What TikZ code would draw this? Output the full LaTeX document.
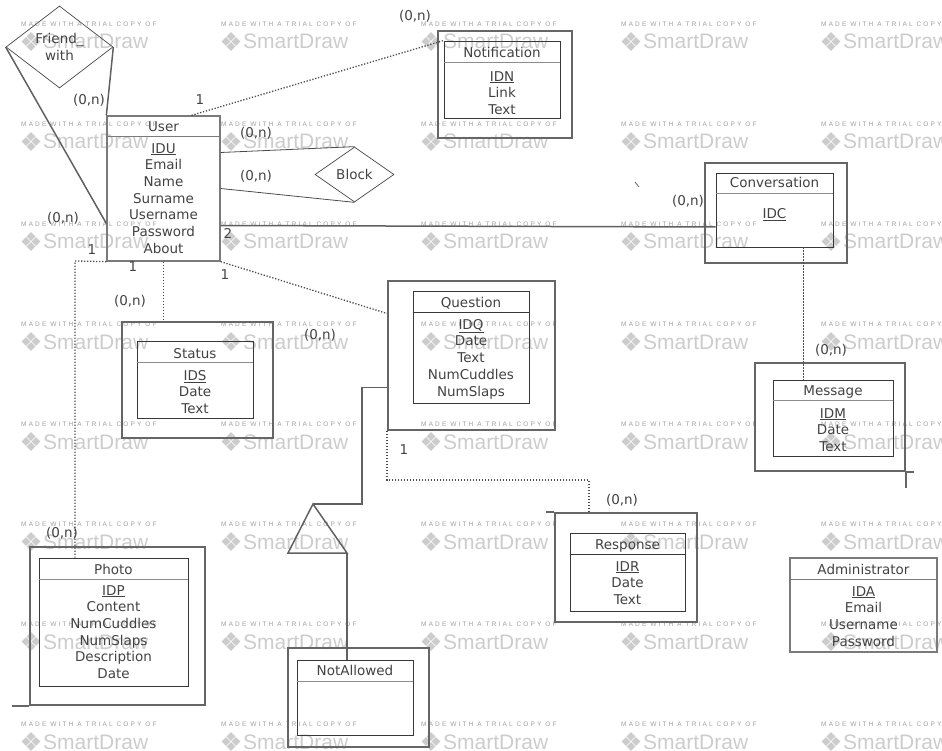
\documentclass[tikz,border=0pt]{standalone}
\usepackage{fontspec}
\setmainfont{DejaVu Sans}
\newfontfamily\wmfont{Liberation Sans}
\newfontfamily\wmtiny[LetterSpace=33]{Liberation Sans}
\usetikzlibrary{shapes.geometric}

\begin{document}
\begin{tikzpicture}[x=1pt,y=-1pt,
  ebox/.style={draw=black!78,line width=0.9pt,inner sep=0pt},
  sbox/.style={draw=black!52,line width=1.3pt,inner sep=0pt},
  obox/.style={draw=black!60,line width=1.8pt,inner sep=0pt},
  divline/.style={draw=black!45,line width=0.9pt},
  ttl/.style={font=\fontsize{13.5}{16.7}\selectfont,text=black!74,inner sep=0pt,anchor=base},
  attr/.style={font=\fontsize{13.5}{16.7}\selectfont,text=black!74,inner sep=0pt,anchor=north,align=center},
  card/.style={font=\fontsize{13.5}{16.7}\selectfont,text=black!74,inner sep=0pt},
  rel/.style={diamond,draw=black!72,line width=0.7pt,inner sep=0pt,font=\fontsize{13.5}{16.7}\selectfont,text=black!74,align=center},
  link/.style={draw=black!62,line width=1.5pt},
  thinlink/.style={draw=black!70,line width=0.8pt},
  dotlink/.style={draw=black!70,line width=1.3pt,dash pattern=on 1.3pt off 1.7pt},
  wmsmall/.style={font=\wmtiny\fontsize{6.5}{8}\selectfont,text=black!38,inner sep=0pt},
  wmbig/.style={font=\wmfont\fontsize{21}{25}\selectfont,text=black!20,inner sep=0pt}]
\useasboundingbox (0,0) rectangle (942,751);
\clip (0,0) rectangle (942,751);

\foreach \i in {0,...,4}{
  \foreach \j in {0,...,7}{
    \node[wmsmall,anchor=west] (wm-\i-\j) at (21+200*\i,24+100*\j) {MADE WITH A TRIAL COPY OF};
    \node[wmbig,anchor=base west] (sd-\i-\j) at (43+200*\i,49+100*\j) {SmartDraw};
    \foreach \dx/\dy in {-5/0,5/0,0/-5,0/5}
      \fill[black!20] (31+200*\i+\dx,41.5+100*\j+\dy) +(0,-4.4) -- +(4.4,0) -- +(0,4.4) -- +(-4.4,0) -- cycle;
  }
}

\node[sbox,minimum width=113pt,minimum height=145pt] (user) at (163.5,188.5) {};
\draw[sbox] ([yshift=-21pt]user.north west) -- ([yshift=-21pt]user.north east);
\node[ttl] (user-t) at (163.5,132) {User};
\node[attr] (user-a) at (163.5,143) {\underline{IDU}\\Email\\Name\\Surname\\Username\\Password\\About};

\node[obox,minimum width=134pt,minimum height=107pt] (notifout) at (505,84.5) {};
\node[ebox,minimum width=116pt,minimum height=77pt] (notif) at (502,79.5) {};
\draw[divline] ([yshift=-22pt]notif.north west) -- ([yshift=-22pt]notif.north east);
\node[ttl] (notif-t) at (502,58) {Notification};
\node[attr] (notif-a) at (502,71) {\underline{IDN}\\Link\\Text};

\node[obox,minimum width=142pt,minimum height=100pt] (convout) at (776,213) {};
\node[ebox,minimum width=117pt,minimum height=74pt] (conv) at (774.5,210) {};
\draw[divline] ([yshift=-21pt]conv.north west) -- ([yshift=-21pt]conv.north east);
\node[ttl] (conv-t) at (774.5,188) {Conversation};
\node[attr] (conv-a) at (774.5,208) {\underline{IDC}};

\node[obox,minimum width=150pt,minimum height=108pt] (msgout) at (830,417) {};
\node[ebox,minimum width=120pt,minimum height=76pt] (msg) at (833,418) {};
\draw[divline] ([yshift=-21pt]msg.north west) -- ([yshift=-21pt]msg.north east);
\node[ttl] (msg-t) at (833,395) {Message};
\node[attr] (msg-a) at (833,408) {\underline{IDM}\\Date\\Text};
\draw[obox] (msgout.south east) -- ++(8,0);
\draw[obox] (msgout.south east) -- ++(0,16);

\node[obox,minimum width=151pt,minimum height=116pt] (statusout) at (197.5,380) {};
\node[ebox,minimum width=116pt,minimum height=77pt] (status) at (195,379.5) {};
\draw[divline] ([yshift=-22pt]status.north west) -- ([yshift=-22pt]status.north east);
\node[ttl] (status-t) at (195,358) {Status};
\node[attr] (status-a) at (195,370) {\underline{IDS}\\Date\\Text};

\node[obox,minimum width=167pt,minimum height=149pt] (qout) at (471.5,355.5) {};
\node[ebox,minimum width=116pt,minimum height=112pt] (q) at (471,347) {};
\draw[ebox] ([yshift=-22pt]q.north west) -- ([yshift=-22pt]q.north east);
\node[ttl] (q-t) at (471,307) {Question};
\node[attr] (q-a) at (471,319) {\underline{IDQ}\\Date\\Text\\NumCuddles\\NumSlaps};

\node[obox,minimum width=175pt,minimum height=158pt] (photoout) at (117.5,626) {};
\node[ebox,minimum width=149pt,minimum height=128pt] (photo) at (113.5,622) {};
\draw[divline] ([yshift=-22pt]photo.north west) -- ([yshift=-22pt]photo.north east);
\node[ttl] (photo-t) at (113.5,574) {Photo};
\node[attr] (photo-a) at (113.5,585) {\underline{IDP}\\Content\\NumCuddles\\NumSlaps\\Description\\Date};
\draw[obox] (photoout.south west) -- ++(-17,0);

\node[obox,minimum width=142pt,minimum height=109pt] (respout) at (626,567.5) {};
\node[ebox,minimum width=115pt,minimum height=78pt] (resp) at (627.5,572) {};
\draw[ebox] ([yshift=-22pt]resp.north west) -- ([yshift=-22pt]resp.north east);
\node[ttl] (resp-t) at (627.5,549) {Response};
\node[attr] (resp-a) at (627.5,561) {\underline{IDR}\\Date\\Text};
\draw[obox] (respout.north west) -- ++(-8,0);

\node[sbox,minimum width=147pt,minimum height=94pt] (admin) at (863.5,605) {};
\draw[sbox] ([yshift=-22pt]admin.north west) -- ([yshift=-22pt]admin.north east);
\node[ttl] (admin-t) at (863.5,574) {Administrator};
\node[attr] (admin-a) at (863.5,586) {\underline{IDA}\\Email\\Username\\Password};

\node[obox,minimum width=141pt,minimum height=99pt] (naout) at (358.5,697.5) {};
\node[ebox,minimum width=116pt,minimum height=75pt] (na) at (355,697.5) {};
\draw[divline] ([yshift=-22pt]na.north west) -- ([yshift=-22pt]na.north east);
\node[ttl] (na-t) at (355,675) {NotAllowed};

\node[rel,minimum width=107pt,minimum height=82pt] (friend) at (59.5,47) {Friend\_\\with};
\node[rel,minimum width=79pt,minimum height=55pt] (block) at (354.5,174.5) {Block};

\draw[link] (friend.west) -- ([yshift=-35pt]user.west);
\draw[link] (friend.east) -- (user.north west);
\draw[thinlink] ([yshift=36pt]user.east) -- (block.north);
\draw[thinlink] (user.east) -- (block.south);
\draw[link] ([yshift=-37pt]user.east) -- ([yshift=-17pt]conv.west);
\draw[dotlink] ([xshift=28pt]user.north) -- (notif.north west);
\draw[dotlink] (user.south) -- (user.south |- statusout.north);
\coordinate (pbend) at (75,261);
\draw[dotlink] (user.south west) -- (pbend) -- (pbend |- photo.north);
\draw[dotlink] (user.south east) -- ([yshift=42pt]qout.west);
\draw[dotlink] (qout.south west) |- ([xshift=-37pt,yshift=32pt]respout.north) -- ([xshift=-37pt]respout.north);
\draw[dotlink] ([xshift=29pt]conv.south) -- ([xshift=29pt]conv.south |- msg.north);
\coordinate (isa) at (313,504);
\coordinate (isal) at (288,553);
\coordinate (isar) at (347,553);
\draw[link] (isa) -- (isal) -- (isar) -- cycle;
\draw[link] ([yshift=-32pt]qout.west) -- ++(-25,0) |- (isa);
\draw[link] (isar) -- (isar |- na.north);
\draw[black!60,line width=0.8pt] (635,182) -- (639,187);

\node[card] (c1) at (89,100) {(0,n)};
\node[card] (c2) at (63,218) {(0,n)};
\node[card] (c3) at (200,100) {1};
\node[card] (c4) at (415,16) {(0,n)};
\node[card] (c5) at (256,133) {(0,n)};
\node[card] (c6) at (256,176) {(0,n)};
\node[card] (c7) at (228,233) {2};
\node[card] (c8) at (688,201) {(0,n)};
\node[card] (c9) at (831,350) {(0,n)};
\node[card] (c10) at (92,250) {1};
\node[card] (c11) at (133,267) {1};
\node[card] (c12) at (225,275) {1};
\node[card] (c13) at (130,301) {(0,n)};
\node[card] (c14) at (320,335) {(0,n)};
\node[card] (c15) at (62,533) {(0,n)};
\node[card] (c16) at (404,450) {1};
\node[card] (c17) at (622,500) {(0,n)};
\end{tikzpicture}
\end{document}
